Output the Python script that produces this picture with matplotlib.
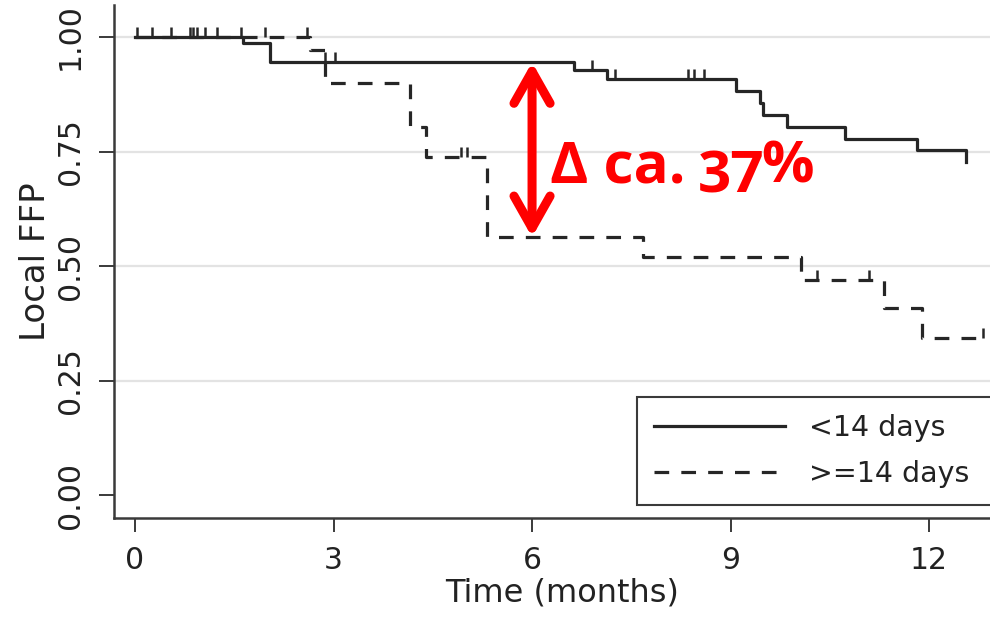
import numpy as np
import matplotlib
matplotlib.use("Agg")
import matplotlib.pyplot as plt
from matplotlib.patches import FancyArrowPatch

# ---- data ----
t_short = [0.0, 1.63, 2.04, 6.63, 7.14, 9.08, 9.44, 9.49, 9.86, 10.73, 11.82, 12.56]
s_short = [1.000, 0.987, 0.945, 0.928, 0.908, 0.882, 0.856, 0.830, 0.804, 0.777, 0.753, 0.727]
cens_short = [0.03, 0.26, 0.54, 0.83, 0.88, 0.94, 1.06, 1.24, 2.87, 3.02, 6.90, 7.26, 8.35, 8.44, 8.60]

t_long = [0.0, 2.65, 2.87, 4.16, 4.39, 5.32, 7.68, 10.06, 11.32, 11.90, 12.81]
s_long = [1.000, 0.972, 0.899, 0.803, 0.738, 0.563, 0.520, 0.469, 0.408, 0.343, 0.343]
cens_long = [1.60, 1.97, 2.60, 4.92, 5.02, 10.30, 11.09, 12.81]

series_labels = ["<14 days", ">=14 days"]
x_ticks = [0, 3, 6, 9, 12]
y_ticks = [0.00, 0.25, 0.50, 0.75, 1.00]
y_ticklabels = ["0.00", "0.25", "0.50", "0.75", "1.00"]
x_label = "Time (months)"
y_label = "Local FFP"
annot_time = 6
annot_parts = ["\u0394 ca.", "37", "%"]


def step_value(t, s, x):
    i = np.searchsorted(np.asarray(t), np.asarray(x), side="right") - 1
    return np.asarray(s)[i]


line_col = "#262626"
axis_col = "#3a3a3a"
text_col = "#222222"

plt.rcParams["font.family"] = ["DejaVu Sans"]

fig = plt.figure(figsize=(9.9, 6.17), dpi=100)
W, H = 990, 617
ax = fig.add_axes([114 / W, 1 - 518 / H, (W - 114) / W, (518 - 5) / H])

ax.set_xlim(-0.317, 12.92)
ax.set_ylim(-0.0502, 1.0699)

# grid
ax.set_yticks(y_ticks)
ax.set_yticklabels(y_ticklabels, rotation=90, va="center")
ax.set_xticks(x_ticks)
ax.yaxis.grid(True, color="#e3e3e3", lw=1.6)
ax.get_ygridlines()[0].set_visible(False)
ax.set_axisbelow(True)

# curves
l1, = ax.step(t_short, s_short, where="post", color=line_col, lw=2.3,
              label=series_labels[0])
l2, = ax.step(t_long, s_long, where="post", color=line_col, lw=2.3,
              linestyle=(0, (4.6, 3.8)), label=series_labels[1])

# censor marks
cs = step_value(t_short, s_short, cens_short)
ax.vlines(cens_short, cs, cs + 0.022, color=line_col, lw=1.8)
cl = step_value(t_long, s_long, cens_long)
ax.vlines(cens_long, cl, cl + 0.022, color=line_col, lw=1.8)

# axes styling
for sp in ["top", "right"]:
    ax.spines[sp].set_visible(False)
for sp in ["left", "bottom"]:
    ax.spines[sp].set_color(axis_col)
    ax.spines[sp].set_linewidth(1.8)
ax.tick_params(axis="y", length=11, width=1.4, color=axis_col, pad=10,
               labelsize=21.5, labelcolor=text_col)
ax.tick_params(axis="x", length=10, width=1.4, color=axis_col, pad=10,
               labelsize=21.5, labelcolor=text_col)
ax.set_xlabel(x_label, fontsize=23, color=text_col)
ax.xaxis.set_label_coords((562 - 114) / (W - 114), (518 - 578) / (518 - 5))
ax.set_ylabel(y_label, fontsize=24.5, color=text_col, labelpad=3)

x0 = (637 - 114) / (W - 114)
y0 = (518 - 505) / (518 - 5)
leg = ax.legend(handles=[l1, l2], loc="lower left", mode="expand",
                bbox_to_anchor=(x0, y0, 1.05 - x0, 0.2),
                borderaxespad=0, fontsize=20.5, handlelength=4.6,
                handletextpad=0.85, borderpad=0.6, labelspacing=0.62,
                fancybox=False, framealpha=1, edgecolor=axis_col)
leg.get_frame().set_linewidth(1.5)
for t in leg.get_texts():
    t.set_color(text_col)

# annotation
y_top = float(step_value(t_short, s_short, annot_time))
y_bot = float(step_value(t_long, s_long, annot_time))
arr = FancyArrowPatch((annot_time, y_bot), (annot_time, y_top),
                      arrowstyle="<->,head_length=2.3,head_width=1.3",
                      mutation_scale=10, lw=6.5, color="#ff0000",
                      shrinkA=0, shrinkB=0, capstyle="round", joinstyle="round")
ax.add_patch(arr)

afont = dict(color="#ff0000", fontweight="bold", fontsize=42,
             family=["Open Sans", "DejaVu Sans"])
ax.text(6.27, 0.683, annot_parts[0], ha="left", va="baseline", **afont)
ax.text(8.50, 0.660, annot_parts[1], ha="left", va="baseline", **afont)
ax.text(9.47, 0.683, annot_parts[2], ha="left", va="baseline", **afont)

fig.savefig("out.png", dpi=100)
